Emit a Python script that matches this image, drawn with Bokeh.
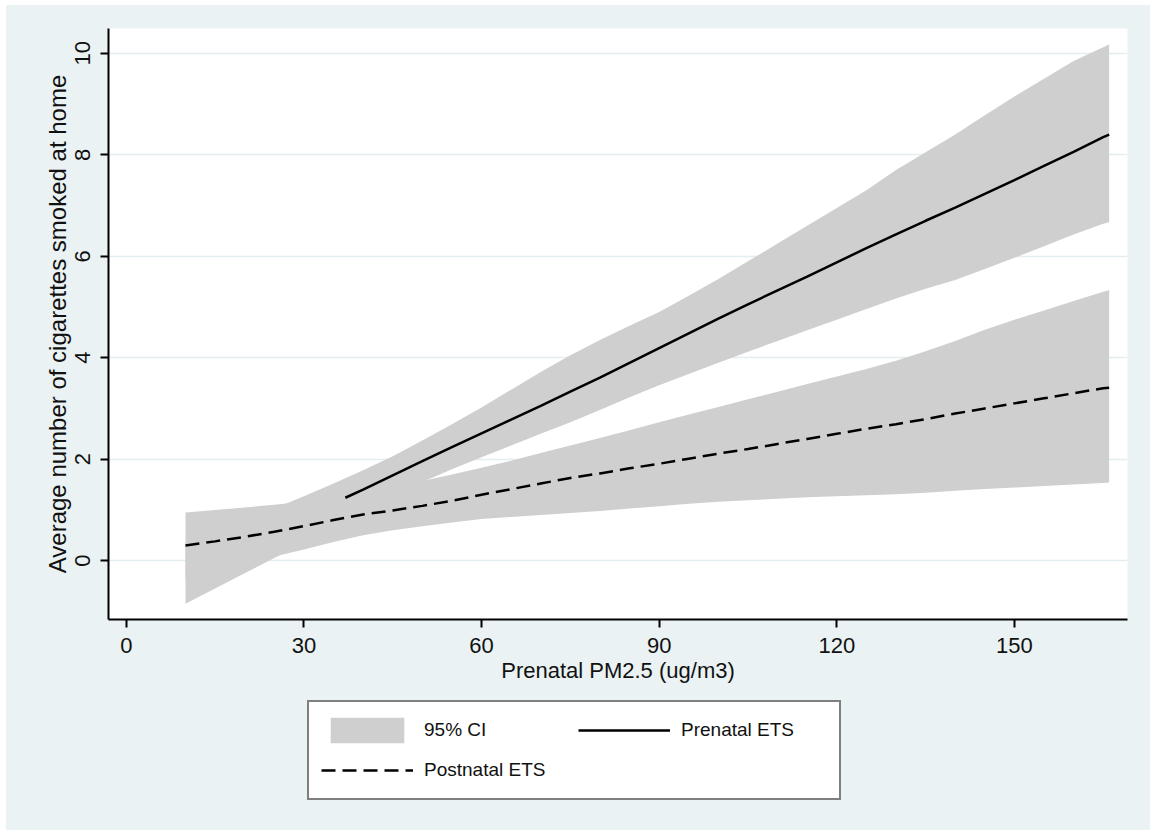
from bokeh.plotting import figure
from bokeh.layouts import column
from bokeh.models import Range1d, FixedTicker, Legend, LegendItem
from bokeh.embed import file_html
from bokeh.resources import INLINE

# ---- data ----
x_ci = [10, 15, 20, 25, 30, 35, 40, 45, 50, 55, 60, 65, 70, 75, 80, 85, 90, 95,
        100, 105, 110, 115, 120, 125, 130, 135, 140, 145, 150, 155, 160, 165, 166]

prenatal_lower = [-0.85, -0.55, -0.25, 0.05, 0.35, 0.65, 0.95, 1.25, 1.55, 1.80,
                  2.04, 2.27, 2.50, 2.73, 2.97, 3.22, 3.46, 3.68, 3.90, 4.12,
                  4.33, 4.54, 4.75, 4.96, 5.17, 5.36, 5.53, 5.75, 5.97, 6.20,
                  6.43, 6.64, 6.67]
prenatal_upper = [0.35, 0.58, 0.82, 1.03, 1.27, 1.52, 1.78, 2.06, 2.37, 2.69,
                  3.02, 3.37, 3.72, 4.05, 4.35, 4.63, 4.90, 5.22, 5.55, 5.90,
                  6.25, 6.60, 6.95, 7.30, 7.70, 8.05, 8.40, 8.78, 9.15, 9.50,
                  9.85, 10.12, 10.18]

postnatal_lower = [-0.35, -0.20, -0.06, 0.08, 0.22, 0.37, 0.50, 0.60, 0.68, 0.75,
                   0.82, 0.86, 0.90, 0.94, 0.98, 1.03, 1.07, 1.12, 1.16, 1.19,
                   1.22, 1.25, 1.27, 1.29, 1.31, 1.34, 1.38, 1.41, 1.44, 1.47,
                   1.50, 1.53, 1.54]
postnatal_upper = [0.95, 1.00, 1.05, 1.10, 1.16, 1.24, 1.34, 1.45, 1.57, 1.70,
                   1.83, 1.97, 2.12, 2.27, 2.42, 2.57, 2.73, 2.88, 3.03, 3.18,
                   3.33, 3.48, 3.63, 3.78, 3.94, 4.13, 4.33, 4.55, 4.75, 4.93,
                   5.12, 5.30, 5.33]
postnatal_mean = [0.30, 0.38, 0.47, 0.57, 0.68, 0.80, 0.91, 0.99, 1.08, 1.18,
                  1.30, 1.41, 1.52, 1.63, 1.72, 1.82, 1.91, 2.01, 2.11, 2.20,
                  2.30, 2.40, 2.50, 2.60, 2.69, 2.79, 2.90, 3.00, 3.10, 3.20,
                  3.30, 3.40, 3.41]

x_prenatal = [37, 40, 45, 50, 55, 60, 65, 70, 75, 80, 85, 90, 95, 100, 105, 110,
              115, 120, 125, 130, 135, 140, 145, 150, 155, 160, 165, 166]
prenatal_mean = [1.24, 1.40, 1.68, 1.96, 2.24, 2.51, 2.78, 3.05, 3.33, 3.61,
                 3.90, 4.19, 4.48, 4.77, 5.05, 5.33, 5.60, 5.88, 6.16, 6.43,
                 6.70, 6.96, 7.23, 7.50, 7.78, 8.06, 8.35, 8.40]

x_ticks = [0, 30, 60, 90, 120, 150]
y_ticks = [0, 2, 4, 6, 8, 10]

labels = ["95% CI", "Prenatal ETS", "Postnatal ETS"]
x_title = "Prenatal PM2.5 (ug/m3)"
y_title = "Average number of cigarettes smoked at home"

BG = "#EAF2F3"
BAND = "#CFCFCF"
FONT = "Liberation Sans"
DASH = "14 7"
LW = 2.5

# ---- main plot ----
p = figure(frame_width=1019, frame_height=591,
           x_range=Range1d(-3.0, 169.1), y_range=Range1d(-1.16, 10.49),
           output_backend="svg", toolbar_location=None,
           min_border_left=102, min_border_right=23,
           min_border_top=23, min_border_bottom=80,
           background_fill_color="white", border_fill_color=BG,
           outline_line_color=None)

p.varea(x=x_ci, y1=prenatal_lower, y2=prenatal_upper, fill_color=BAND)
p.varea(x=x_ci, y1=postnatal_lower, y2=postnatal_upper, fill_color=BAND)
p.line(x=x_prenatal, y=prenatal_mean, line_color="black", line_width=LW)
p.line(x=x_ci, y=postnatal_mean, line_color="black", line_width=LW, line_dash=DASH)

p.xaxis.ticker = FixedTicker(ticks=x_ticks)
p.yaxis.ticker = FixedTicker(ticks=y_ticks)
for ax in (p.xaxis, p.yaxis):
    ax.axis_line_width = 2
    ax.axis_line_color = "black"
    ax.major_tick_line_width = 2
    ax.major_tick_line_color = "black"
    ax.major_tick_out = 8
    ax.major_tick_in = 0
    ax.minor_tick_out = 0
    ax.minor_tick_in = 0
    ax.major_label_text_font = FONT
    ax.major_label_text_font_size = "22px"
    ax.major_label_text_color = "#111111"
    ax.axis_label_text_font = FONT
    ax.axis_label_text_font_style = "normal"
    ax.axis_label_text_color = "#111111"
    ax.major_label_standoff = 10

p.xaxis.axis_label = x_title
p.xaxis.axis_label_text_font_size = "22px"
p.xaxis.axis_label_standoff = 2
p.yaxis.axis_label = y_title
p.yaxis.axis_label_text_font_size = "24px"
p.yaxis.axis_label_standoff = 2
p.yaxis.major_label_orientation = "vertical"

p.xgrid.grid_line_color = None
p.ygrid.grid_line_color = "#E4EDF0"
p.ygrid.grid_line_width = 1.5

# ---- legend strip below the plot (its own renderers lie outside its view) ----
q = figure(width=1144, height=131, x_range=Range1d(1000, 1001), y_range=Range1d(1000, 1001),
           output_backend="svg", toolbar_location=None,
           x_axis_location=None, y_axis_location=None,
           min_border_left=0, min_border_right=0, min_border_top=0, min_border_bottom=0,
           background_fill_color=BG, border_fill_color=BG, outline_line_color=None)
q.grid.visible = False

lg_band = q.varea(x=x_ci, y1=prenatal_lower, y2=prenatal_upper, fill_color=BAND)
lg_pre = q.line(x=x_prenatal, y=prenatal_mean, line_color="black", line_width=LW)
lg_post = q.line(x=x_ci, y=postnatal_mean, line_color="black", line_width=LW, line_dash=DASH)

legend = Legend(items=[LegendItem(label=labels[0], renderers=[lg_band]),
                       LegendItem(label=labels[1], renderers=[lg_pre]),
                       LegendItem(label=labels[2], renderers=[lg_post])],
                orientation="horizontal", ncols=2,
                location=(199, 30), margin=0,
                glyph_width=92, glyph_height=32, label_standoff=11,
                spacing=8, padding=12, label_width=146,
                border_line_color="black", border_line_width=2,
                background_fill_color="white", background_fill_alpha=1.0,
                label_text_font=FONT, label_text_font_size="19px",
                label_text_color="#111111")
q.add_layout(legend)

layout = column(p, q, spacing=0, margin=(5, 3, 6, 6),
                styles={"background-color": BG})
open("out.html", "w").write(file_html(layout, INLINE))
